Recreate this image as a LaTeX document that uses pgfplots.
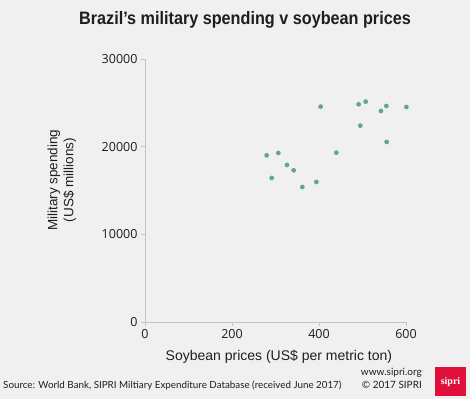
\documentclass[border=0pt]{standalone}
\usepackage{fontspec}
\setmainfont{Liberation Sans}
\newfontfamily\tickfont{Open Sans}
\newfontfamily\srcfont{Lato}
\newfontfamily\logofont{Liberation Serif}
\usepackage{pgfplots}
\pgfplotsset{compat=1.18}
\definecolor{bg}{HTML}{F0F0F0}
\definecolor{axgray}{HTML}{C4C4C4}
\definecolor{dotc}{HTML}{5DA78E}
\definecolor{sipred}{HTML}{E0103A}
\definecolor{txt}{HTML}{1E1E1E}
\pgfplotstableread{
x y
279.7 19036
306.5 19300
291.2 16446
326.4 17931
341.8 17322
361.7 15418
393.9 15989
403.8 24593
439.8 19340
491.2 24860
507.3 25164
495.0 22423
542.5 24098
554.8 24669
555.6 20558
600.8 24555
}\datatable
\begin{document}
\begin{tikzpicture}[x=1pt,y=1pt]
\fill[bg] (0,0) rectangle (470,399);
\begin{axis}[
  at={(145pt,77pt)}, anchor=south west,
  scale only axis, width=261pt, height=262.7pt,
  xmin=0, xmax=600, ymin=0, ymax=30000,
  clip=false,
  axis x line*=bottom, axis y line*=left,
  axis line style={axgray, line width=0.8pt, -},
  xtick={0,200,400,600}, ytick={0,10000,20000,30000},
  tick style={axgray, line width=0.8pt},
  tick align=outside, major tick length=4pt,
  scaled y ticks=false,
  /pgf/number format/assume math mode=true,
  /pgf/number format/set thousands separator={},
  tick label style={font=\tickfont\fontsize{12.5}{14}\selectfont, text=txt},
  xlabel={Soybean prices (US\$ per metric ton)},
  ylabel={Military spending\\(US\$ millions)},
  xlabel style={at={(axis description cs:0.513,-0.133)}, anchor=center, font=\fontsize{14}{16}\selectfont, text=txt},
  ylabel style={at={(axis description cs:-0.318,0.54)}, anchor=center, align=center, font=\fontsize{13.5}{16}\selectfont, text=txt},
]
\addplot[only marks, mark=*, mark size=2.1pt, mark options={fill=dotc, draw=dotc}] table[x=x, y=y] {\datatable};
\end{axis}
\node[anchor=base, text=txt, inner sep=0pt] at (245,374.7) {\scalebox{0.9}[1]{\fontsize{18}{20}\selectfont\bfseries Brazil’s military spending v soybean prices}};
\node[anchor=base west, text=txt, inner sep=0pt] at (3,10.7) {\srcfont\fontsize{9.8}{12}\selectfont Source: World Bank, SIPRI Miltiary Expenditure Database (received June 2017)};
\node[anchor=base east, text=txt, inner sep=0pt] at (422,23.3) {\srcfont\fontsize{10}{12}\selectfont www.sipri.org};
\node[anchor=base east, text=txt, inner sep=0pt] at (422,10.7) {\srcfont\fontsize{10}{12}\selectfont © 2017 SIPRI};
\fill[sipred] (435,3) rectangle (466,32);
\node[text=white, inner sep=0pt] at (450.5,17) {\logofont\bfseries\fontsize{10}{12}\selectfont sipri};
\end{tikzpicture}
\end{document}
